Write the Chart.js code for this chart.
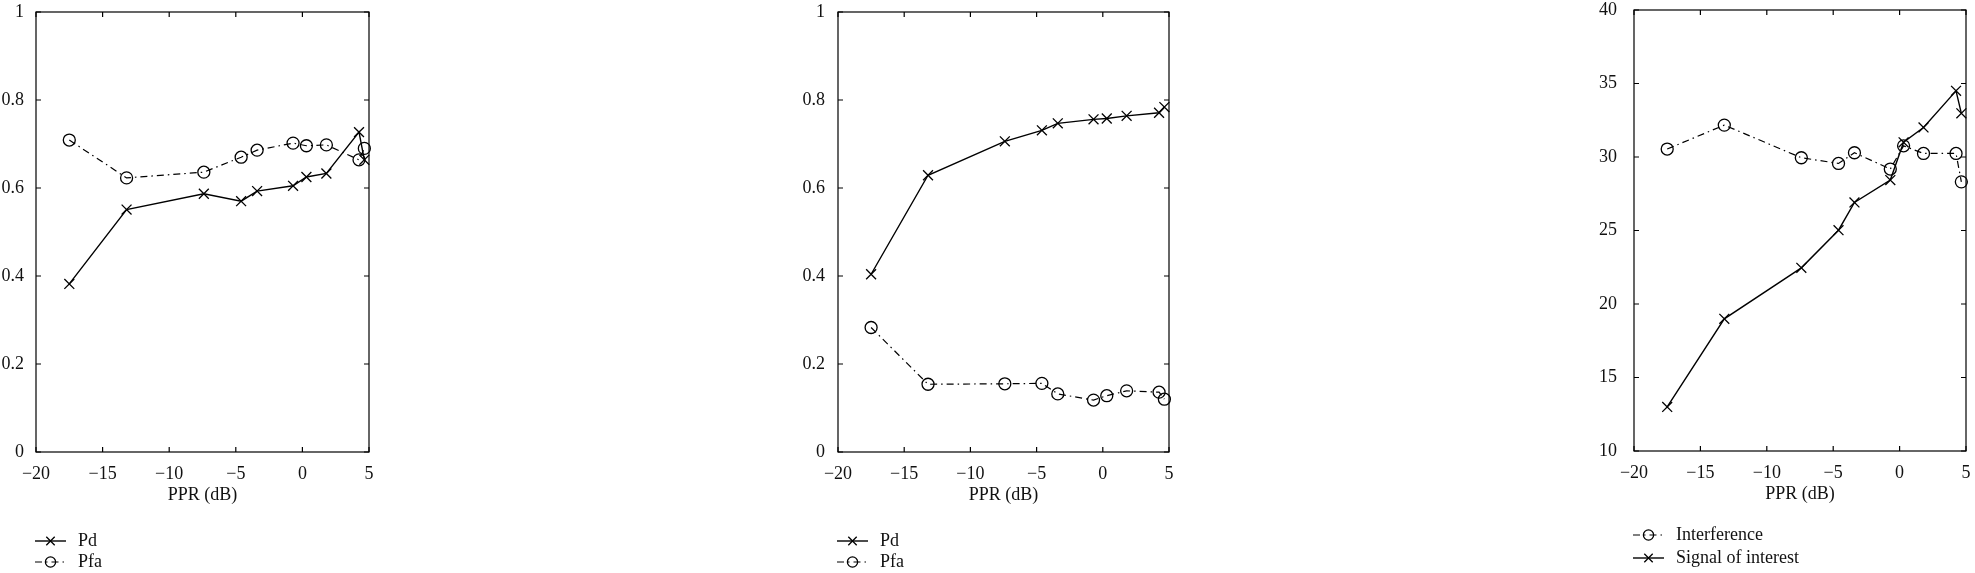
<!DOCTYPE html>
<html>
<head>
<meta charset="utf-8">
<script src="https://cdn.jsdelivr.net/npm/chart.js@4.4.1/dist/chart.umd.min.js"></script>
<style>
  html, body { margin: 0; padding: 0; background: #fff; }
  body { width: 1975px; height: 573px; position: relative; overflow: hidden; }
  .box { position: absolute; top: 0; height: 573px; }
  .box canvas { display: block; }
</style>
</head>
<body>
<div class="box" style="left:0;width:380px"><canvas id="c1"></canvas></div>
<div class="box" style="left:800px;width:380px"><canvas id="c2"></canvas></div>
<div class="box" style="left:1590px;width:385px"><canvas id="c3"></canvas></div>
<script>
/** Data. */
const ppr = [-17.5, -13.2, -7.4, -4.6, -3.4, -0.7, 0.3, 1.8, 4.25, 4.65];

const pd1 = [0.382, 0.551, 0.587, 0.570, 0.593, 0.605, 0.625, 0.633, 0.727, 0.664];
const pfa1 = [0.709, 0.623, 0.636, 0.670, 0.686, 0.702, 0.696, 0.698, 0.664, 0.690];

const pd2 = [0.404, 0.629, 0.706, 0.731, 0.747, 0.756, 0.758, 0.764, 0.771, 0.784];
const pfa2 = [0.283, 0.154, 0.155, 0.156, 0.132, 0.118, 0.128, 0.139, 0.136, 0.120];

const interference = [30.54, 32.17, 29.95, 29.56, 30.29, 29.18, 30.76, 30.24, 30.24, 28.31];
const signal = [13.0, 18.99, 22.46, 25.02, 26.91, 28.43, 31.0, 32.01, 34.5, 32.97];

const xTicks = [-20, -15, -10, -5, 0, 5];
const probTicks = [0, 0.2, 0.4, 0.6, 0.8, 1];
const powerTicks = [10, 15, 20, 25, 30, 35, 40];

const FONT = '"Liberation Serif", "Times New Roman", serif';
Chart.defaults.font.family = FONT;
Chart.defaults.font.size = 18;
Chart.defaults.color = '#111';

/** Turn two arrays into points. */
const points = (xs, ys) => xs.map((x, i) => ({ x: x, y: ys[i] }));

/** Minus sign like the print. */
const fmt = (v) => {
  const s = String(Number(v.toFixed(1)));
  return v < 0 ? '\u2212' + s.slice(1) : s;
};

/** Dataset styles. */
const crossSet = (label, ys) => ({
  label: label,
  data: points(ppr, ys),
  borderColor: '#000',
  borderWidth: 1.4,
  pointStyle: 'crossRot',
  pointRadius: 7,
  pointBorderWidth: 1.3,
  pointBorderColor: '#000',
  pointBackgroundColor: 'rgba(0,0,0,0)',
  tension: 0,
  clip: false,
});

const circleSet = (label, ys) => ({
  label: label,
  data: points(ppr, ys),
  borderColor: '#000',
  borderWidth: 1.2,
  borderDash: [7, 4, 1.5, 4],
  pointStyle: 'circle',
  pointRadius: 6,
  pointBorderWidth: 1.3,
  pointBorderColor: '#000',
  pointBackgroundColor: 'rgba(0,0,0,0)',
  tension: 0,
  clip: false,
});

/** Box with inward ticks on all four sides. */
const framePlugin = {
  id: 'frame',
  beforeDatasetsDraw(chart) {
    const { ctx, chartArea: a, scales } = chart;
    const x = scales.x, y = scales.y;
    ctx.save();
    ctx.strokeStyle = '#000';
    ctx.lineWidth = 1.2;
    ctx.strokeRect(a.left, a.top, a.right - a.left, a.bottom - a.top);
    ctx.beginPath();
    x.ticks.forEach((t) => {
      const px = x.getPixelForValue(t.value);
      ctx.moveTo(px, a.bottom); ctx.lineTo(px, a.bottom - 5);
      ctx.moveTo(px, a.top); ctx.lineTo(px, a.top + 5);
    });
    y.ticks.forEach((t) => {
      const py = y.getPixelForValue(t.value);
      ctx.moveTo(a.left, py); ctx.lineTo(a.left + 5, py);
      ctx.moveTo(a.right, py); ctx.lineTo(a.right - 5, py);
    });
    ctx.stroke();
    ctx.restore();
  },
};

/** Legend under the axis title, line sample + marker + text. */
const legendPlugin = {
  id: 'pprLegend',
  afterDraw(chart, args, opts) {
    const { ctx, chartArea: a } = chart;
    chart.data.datasets.forEach((ds, i) => {
      const yy = opts.top + i * opts.gap;
      const x0 = a.left - 1, x1 = a.left + 30;
      ctx.save();
      ctx.strokeStyle = '#000';
      ctx.lineWidth = ds.borderWidth;
      ctx.setLineDash(ds.borderDash || []);
      ctx.beginPath();
      ctx.moveTo(x0, yy);
      ctx.lineTo(x1, yy);
      ctx.stroke();
      ctx.setLineDash([]);
      ctx.fillStyle = 'rgba(0,0,0,0)';
      ctx.lineWidth = ds.pointBorderWidth;
      Chart.helpers.drawPoint(ctx, {
        pointStyle: ds.pointStyle,
        radius: ds.pointRadius * 0.85,
        borderWidth: ds.pointBorderWidth,
        rotation: 0,
      }, (x0 + x1) / 2, yy);
      ctx.fillStyle = '#111';
      ctx.font = '18px ' + FONT;
      ctx.textBaseline = 'middle';
      ctx.textAlign = 'left';
      ctx.fillText(ds.label, a.left + 42, yy);
      ctx.restore();
    });
  },
};

/** Build one panel. */
const makeChart = (id, datasets, yTicks, opt) => {
  const config = {
    type: 'scatter',
    data: { datasets: datasets.map((d) => Object.assign(d, { showLine: true })) },
    options: {
      responsive: true,
      maintainAspectRatio: false,
      animation: false,
      events: [],
      layout: { padding: { top: opt.top, right: opt.right, left: 0, bottom: opt.bottom } },
      plugins: {
        legend: { display: false },
        tooltip: { enabled: false },
        pprLegend: { top: opt.legendTop, gap: opt.legendGap },
      },
      scales: {
        x: {
          type: 'linear',
          min: xTicks[0],
          max: xTicks[xTicks.length - 1],
          afterBuildTicks: (s) => { s.ticks = xTicks.map((v) => ({ value: v })); },
          afterFit: (s) => { s.height = 54; s.paddingLeft = 0; s.paddingRight = 0; },
          grid: { display: false },
          border: { display: false },
          ticks: { padding: 3, callback: fmt, maxRotation: 0, autoSkip: false },
          title: {
            display: true,
            text: 'PPR (dB)',
            font: { size: 18, lineHeight: 1.2 },
            padding: 0,
          },
        },
        y: {
          type: 'linear',
          min: yTicks[0],
          max: yTicks[yTicks.length - 1],
          afterBuildTicks: (s) => { s.ticks = yTicks.map((v) => ({ value: v })); },
          afterFit: (s) => { s.width = opt.axisWidth; s.paddingTop = 0; s.paddingBottom = 0; },
          grid: { display: false },
          border: { display: false },
          ticks: { padding: opt.yPad, callback: fmt, autoSkip: false },
        },
      },
    },
    plugins: [framePlugin, legendPlugin],
  };
  return new Chart(document.getElementById(id).getContext('2d'), config);
};

makeChart('c1', [crossSet('Pd', pd1), circleSet('Pfa', pfa1)], probTicks,
  { top: 12, right: 11, bottom: 67, axisWidth: 36, yPad: 4, legendTop: 541, legendGap: 21 });

makeChart('c2', [crossSet('Pd', pd2), circleSet('Pfa', pfa2)], probTicks,
  { top: 12, right: 11, bottom: 67, axisWidth: 38, yPad: 5, legendTop: 541, legendGap: 21 });

makeChart('c3', [circleSet('Interference', interference), crossSet('Signal of interest', signal)], powerTicks,
  { top: 10, right: 9, bottom: 68, axisWidth: 44, yPad: 9, legendTop: 535, legendGap: 23 });
</script>
</body>
</html>
